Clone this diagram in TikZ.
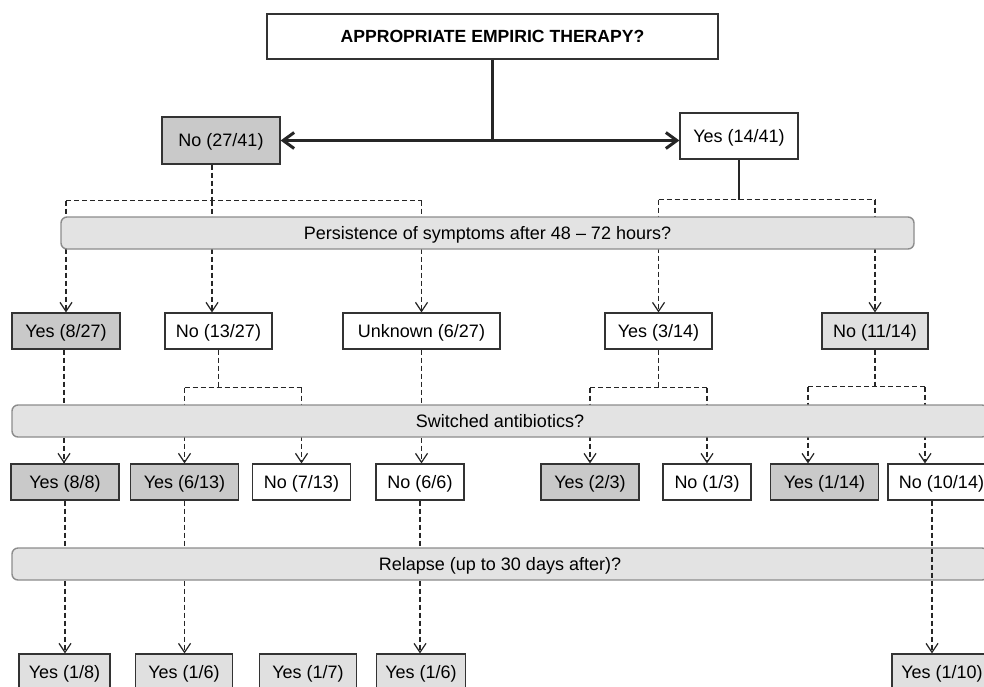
\documentclass[tikz,border=0pt]{standalone}
\usepackage{fontspec}
\setmainfont{Liberation Sans}
\usepackage{tikz}
\usetikzlibrary{arrows,arrows.meta,shapes,positioning}
\usepackage{xcolor}
\definecolor{fcdark}{gray}{0.79}
\definecolor{fclight}{gray}{0.88}
\definecolor{fcband}{gray}{0.89}
\tikzset{
fcnode/.style = {align=center, inner sep=0pt, text centered, rectangle,
draw=black!80, line width=1.2pt, font=\fontsize{18}{21}\selectfont,
text height=12.5pt, text depth=0pt, minimum height=36pt},
fc_d/.style = {fcnode, fill=fcdark},% case grise foncee
fc_l/.style = {fcnode, fill=fclight},% case grise claire
fc_w/.style = {fcnode, fill=white},% case blanche
fc_t/.style = {fcnode, fill=white, font=\fontsize{17.6}{21}\selectfont\bfseries, minimum width=451pt, minimum height=45pt},% question de depart
fc_q/.style = {fcnode, draw=black!45, line width=1.4pt, fill=fcband, rounded corners=6pt, minimum height=32pt},% bande question
dash_l/.style = {dash pattern=on 5pt off 3pt, line width=1.2pt, black!85},% trait tirete
dash_a/.style = {dash_l, -{Straight Barb[length=9pt,width=12pt,line width=1.2pt]}},% fleche tiretee
thick_a/.style = {line width=3pt, black!85, -{Straight Barb[length=11pt,width=16pt,line width=3pt]}}% fleche epaisse
}
\begin{document}
\begin{tikzpicture}[x=1pt,y=-1pt]
  \useasboundingbox (0,0) rectangle (984,686);
  \fill[white] (0,0) rectangle (984,686);
  \clip (0,0) rectangle (984,686);
  \node [fc_t] (top) at (492.5,36.5) {APPROPRIATE EMPIRIC THERAPY?};
  \node [fc_d, minimum width=118pt, minimum height=47pt] (no0) at (221,140.5) {No (27/41)};
  \node [fc_w, minimum width=118pt, minimum height=46pt] (yes0) at (739,136) {Yes (14/41)};
  % level 2
  \node [fc_d, minimum width=108pt] (y1) at (66,331) {Yes (8/27)};
  \node [fc_w, minimum width=107pt] (n1) at (218.5,331) {No (13/27)};
  \node [fc_w, minimum width=157pt] (u1) at (421.5,331) {Unknown (6/27)};
  \node [fc_w, minimum width=107pt] (y2) at (658.5,331) {Yes (3/14)};
  \node [fc_l, minimum width=106pt] (n2) at (875,331) {No (11/14)};
  % level 3
  \node [fc_d, minimum width=108pt] (y11) at (65,482) {Yes (8/8)};
  \node [fc_d, minimum width=108pt] (y12) at (184.5,482) {Yes (6/13)};
  \node [fc_w, minimum width=98pt] (n12) at (301.5,482) {No (7/13)};
  \node [fc_w, minimum width=88pt] (n13) at (420,482) {No (6/6)};
  \node [fc_d, minimum width=98pt] (y21) at (590,482) {Yes (2/3)};
  \node [fc_w, minimum width=88pt] (n21) at (707,482) {No (1/3)};
  \node [fc_d, minimum width=108pt] (y22) at (824.5,482) {Yes (1/14)};
  \node [fc_w, minimum width=107pt] (n22) at (941.5,482) {No (10/14)};
  % level 4
  \node [fc_l, minimum width=91pt] (r1) at (64.5,672) {Yes (1/8)};
  \node [fc_l, minimum width=97pt] (r2) at (184,672) {Yes (1/6)};
  \node [fc_l, minimum width=97pt] (r3) at (308,672) {Yes (1/7)};
  \node [fc_l, minimum width=89pt] (r4) at (421,672) {Yes (1/6)};
  \node [fc_l, minimum width=100pt] (r5) at (942,672) {Yes (1/10)};

  \draw [line width=3pt, black!85] (top.south) -- (top.south |- no0.east) coordinate (j0);
  \draw [thick_a] (j0) -- (no0.east);
  \draw [thick_a] (j0) -- (j0 -| yes0.west);

  \draw [dash_l] ([xshift=-9pt]no0.south) -- ++(0,36) coordinate (b0);
  \draw [dash_l] (b0 -| y1.north) -- (b0 -| u1.north);
  \draw [dash_a] (b0 -| y1.north) -- (y1.north);
  \draw [dash_a] (b0) -- (b0 |- n1.north);
  \draw [dash_a] (b0 -| u1.north) -- (u1.north);

  \draw [line width=1.5pt, black!85] (yes0.south) -- ++(0,40) coordinate (b1);
  \draw [dash_l] (b1 -| y2.north) -- (b1 -| n2.north);
  \draw [dash_a] (b1 -| y2.north) -- (y2.north);
  \draw [dash_a] (b1 -| n2.north) -- (n2.north);

  \draw [dash_a] ([xshift=-2pt]y1.south) -- ([xshift=-1pt]y11.north);
  \draw [dash_l] (n1.south) -- ++(0,38) coordinate (b2);
  \draw [dash_l] (b2 -| y12.north) -- (b2 -| n12.north);
  \draw [dash_a] (b2 -| y12.north) -- (y12.north);
  \draw [dash_a] (b2 -| n12.north) -- (n12.north);
  \draw [dash_a] (u1.south) -- (u1.south |- n13.north);
  \draw [dash_l] (y2.south) -- ++(0,38) coordinate (b3);
  \draw [dash_l] (b3 -| y21.north) -- (b3 -| n21.north);
  \draw [dash_a] (b3 -| y21.north) -- (y21.north);
  \draw [dash_a] (b3 -| n21.north) -- (n21.north);
  \draw [dash_l] (n2.south) -- ++(0,37) coordinate (b4);
  \coordinate (b4l) at ([xshift=-67pt]b4);
  \coordinate (b4r) at ([xshift=50pt]b4);
  \draw [dash_l] (b4l) -- (b4r);
  \draw [dash_a] (b4l) -- (b4l |- y22.north);
  \draw [dash_a] (b4r) -- (b4r |- n22.north);

  \draw [dash_a] (y11.south) -- (y11.south |- r1.north);
  \draw [dash_a] (y12.south) -- (y12.south |- r2.north);
  \draw [dash_a] (n13.south) -- (n13.south |- r4.north);

  \node [fc_q, minimum width=853pt] (q1) at (487.5,233) {Persistence of symptoms after 48 -- 72 hours?};
  \node [fc_q, minimum width=976pt] (q2) at (500,421) {Switched antibiotics?};
  \node [fc_q, minimum width=976pt] (q3) at (500,564) {Relapse (up to 30 days after)?};

  \coordinate (c5) at ([xshift=-9.5pt]n22.south);
  \draw [dash_a] (c5) -- (c5 |- r5.north);
\end{tikzpicture}
\end{document}
